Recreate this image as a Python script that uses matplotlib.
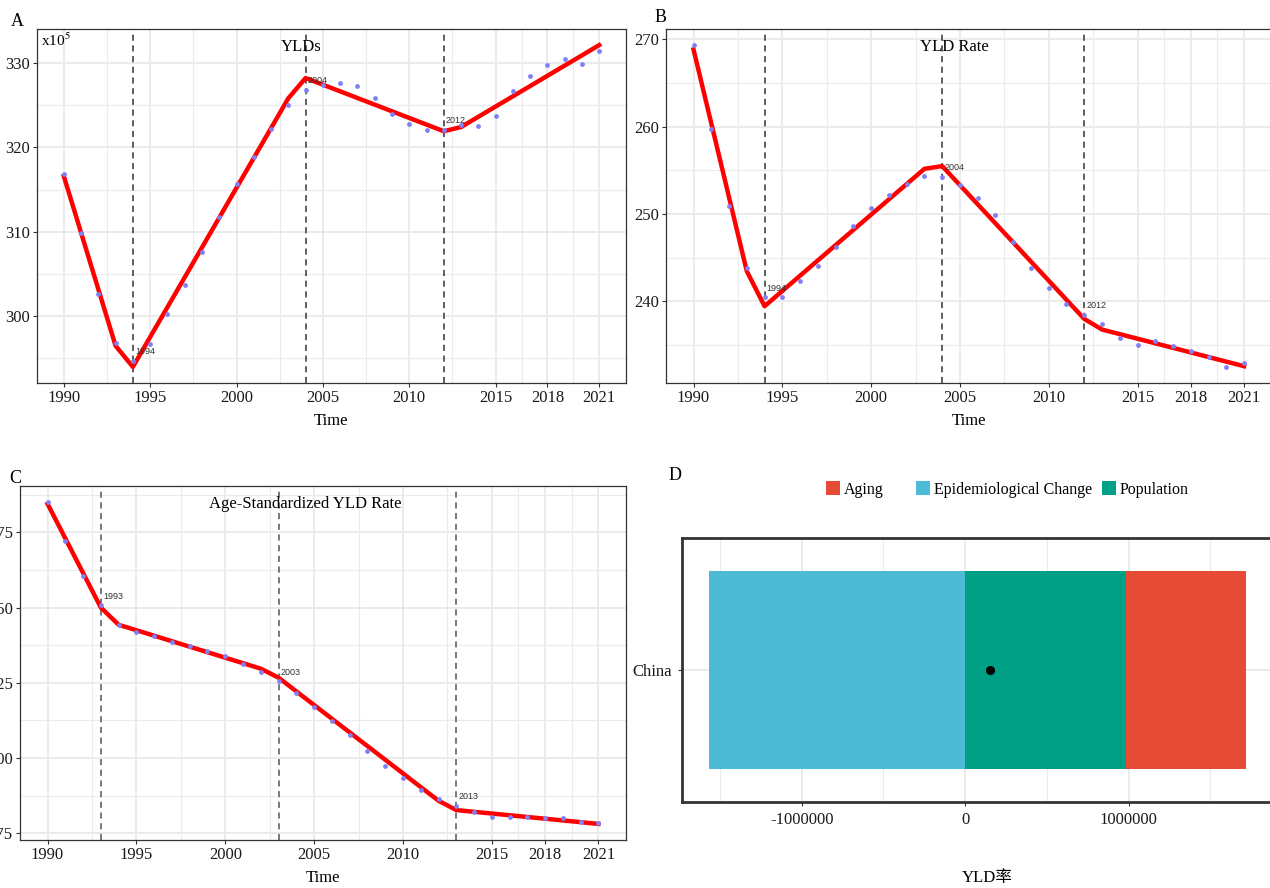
import matplotlib
matplotlib.use('Agg')
import matplotlib.pyplot as plt
from matplotlib.patches import Rectangle
import numpy as np

plt.rcParams['font.family'] = ['Liberation Serif', 'Noto Sans CJK SC']
plt.rcParams['mathtext.fontset'] = 'stix'
plt.rcParams['axes.unicode_minus'] = False

# yearly observed values and joinpoint fits
years = list(range(1990, 2022))
ylds = [316.8, 309.8, 302.6, 296.8, 294.7, 296.75, 300.3, 303.7, 307.6, 311.7,
        315.6, 318.9, 322.2, 325.0, 326.8, 327.4, 327.6, 327.3, 325.8, 323.9,
        322.8, 322.05, 322.05, 322.6, 322.5, 323.7, 326.7, 328.4, 329.7, 330.4,
        329.9, 331.4]
yld_rate = [269.35, 259.77, 250.87, 243.85, 240.5, 240.56, 242.28, 244.03, 246.25, 248.58,
            250.72, 252.17, 253.5, 254.34, 254.27, 253.28, 251.82, 249.84, 246.86, 243.77,
            241.56, 239.72, 238.46, 237.39, 235.79, 235.03, 235.44, 234.95, 234.33, 233.65,
            232.5, 233.0]
asr = [285.07, 272.2, 260.4, 250.75, 244.3, 241.8, 240.45, 238.7, 237.2, 235.6,
       233.9, 231.4, 228.7, 225.6, 221.6, 217.1, 212.4, 207.8, 202.5, 197.4,
       193.2, 189.3, 186.4, 184.1, 181.9, 180.3, 180.4, 180.3, 180.2, 179.9,
       178.7, 178.3]

fit_years_ab = [1990, 1993, 1994, 2003, 2004, 2012, 2013, 2021]
ylds_fit = [316.6, 296.5, 294.0, 325.8, 328.2, 321.9, 322.4, 332.1]
rate_fit = [268.85, 243.46, 239.45, 255.18, 255.5, 238.0, 236.78, 232.58]
fit_years_c = [1990, 1993, 1994, 2002, 2003, 2012, 2013, 2021]
asr_fit = [284.5, 250.0, 244.3, 229.7, 226.7, 185.8, 182.7, 178.1]

joins_ab = [1994, 2004, 2012]
joins_c = [1993, 2003, 2013]

xticks = [1990, 1995, 2000, 2005, 2010, 2015, 2018, 2021]

# decomposition for China
components = ['Aging', 'Epidemiological Change', 'Population']
comp_colors = ['#E64B35', '#4DBBD5', '#00A087']
china_vals = [731000, -1569000, 987000]
dticks = [-1000000, 0, 1000000]

W, H = 1270, 888
GRID = '#EBEBEB'


def box(l, t, r, b):
    return [l / W, 1 - b / H, (r - l) / W, (b - t) / H]


def expand(vals, frac=0.05):
    lo, hi = min(vals), max(vals)
    pad = (hi - lo) * frac
    return lo - pad, hi + pad


def trend_panel(ax, obs, fx, fy, joins, title, yticks, title_x, dash_col):
    xl = expand(years)
    yl = expand(list(obs) + list(fy))
    ax.set_xlim(xl)
    ax.set_ylim(yl)
    ax.set_xticks(xticks)
    ax.set_xticks([(a + b) / 2 for a, b in zip(xticks[:-1], xticks[1:])], minor=True)
    step = yticks[1] - yticks[0]
    ym = np.arange(yticks[0] - step / 2, yticks[-1] + step, step)
    ax.set_yticks(yticks)
    ax.set_yticks([v for v in ym if yl[0] < v < yl[1]], minor=True)
    ax.grid(which='major', color=GRID, lw=1.4, zorder=0)
    ax.grid(which='minor', color=GRID, lw=0.8, zorder=0)
    ax.set_axisbelow(True)
    ax.tick_params(which='minor', length=0)
    ax.tick_params(which='major', length=3, color='#333333', labelsize=12,
                   labelcolor='#1a1a1a', pad=2)
    for s in ax.spines.values():
        s.set_color('#333333')
        s.set_linewidth(0.9)

    for j in joins:
        ax.axvline(j, color=dash_col, lw=1.1, ls=(0, (4, 3)), zorder=1)
    ax.plot(fx, fy, color='#FF0000', lw=3.2, zorder=2, solid_joinstyle='round')
    ax.scatter(years, obs, s=12, color='#8080F5', lw=0, zorder=3)
    for j in joins:
        ax.annotate(str(j), (j, obs[years.index(j)]), xytext=(2, 9),
                    textcoords='offset pixels', fontsize=6.5, family='Liberation Sans',
                    color='#333333', ha='left', va='center', zorder=4)
    ax.text(title_x, 0.949, title, transform=ax.transAxes, ha='center',
            va='center', fontsize=12)
    ax.set_xlabel('Time', fontsize=12, labelpad=5)


fig = plt.figure(figsize=(W / 100, H / 100), dpi=100)

axA = fig.add_axes(box(37, 29, 626, 383))
trend_panel(axA, ylds, fit_years_ab, ylds_fit, joins_ab, 'YLDs',
            [300, 310, 320, 330], 0.448, '#333333')
axA.text(0.007, 0.969, r'x10$^{5}$', transform=axA.transAxes, ha='left',
         va='center', fontsize=11)

axB = fig.add_axes(box(666, 29, 1271.6, 383))
trend_panel(axB, yld_rate, fit_years_ab, rate_fit, joins_ab, 'YLD Rate',
            [240, 250, 260, 270], 0.477, '#333333')

axC = fig.add_axes(box(20, 486, 626, 840))
trend_panel(axC, asr, fit_years_c, asr_fit, joins_c, 'Age-Standardized YLD Rate',
            [175, 200, 225, 250, 275], 0.470, '#555555')

# panel D: stacked decomposition bar
axD = fig.add_axes(box(682, 538, 1272.7, 802))
pos_left = 0
neg_left = 0
for name, col, v in reversed(list(zip(components, comp_colors, china_vals))):
    if v >= 0:
        axD.barh(0, v, left=pos_left, height=0.9, color=col, lw=0, zorder=2)
        pos_left += v
    else:
        axD.barh(0, v, left=neg_left, height=0.9, color=col, lw=0, zorder=2)
        neg_left += v
axD.plot(sum(china_vals), 0, 'o', color='black', ms=5.5, zorder=3)
axD.set_xlim(expand([neg_left, pos_left]))
axD.set_ylim(-0.6, 0.6)
axD.set_xticks(dticks)
axD.set_xticklabels([str(v) for v in dticks])
axD.set_xticks([-1500000, -500000, 500000, 1500000], minor=True)
axD.set_yticks([0])
axD.set_yticklabels(['China'])
axD.grid(which='major', color=GRID, lw=1.4, zorder=0)
axD.grid(which='minor', axis='x', color=GRID, lw=0.8, zorder=0)
axD.set_axisbelow(True)
axD.tick_params(which='minor', length=0)
axD.tick_params(which='major', length=3, color='#333333', labelsize=12,
                labelcolor='#1a1a1a', pad=4)
for s in axD.spines.values():
    s.set_color('#333333')
    s.set_linewidth(2.0)
axD.set_xlabel('YLD率', fontsize=12)
axD.xaxis.set_label_coords((987 - 682) / 590.7, -(878 - 802) / 264)
axD.xaxis.label.set_verticalalignment('center')

# legend row above panel D
key_x = [826, 916, 1102]
for x, name, col in zip(key_x, components, comp_colors):
    fig.patches.append(Rectangle((x / W, 1 - 495 / H), 14 / W, 14 / H,
                                 transform=fig.transFigure, color=col, lw=0))
    fig.text((x + 18) / W, 1 - 490 / H, name, fontsize=11.5, ha='left', va='center')

for letter, x, y in [('A', 17, 22), ('B', 661, 17), ('C', 15, 478), ('D', 675, 475)]:
    fig.text(x / W, 1 - y / H, letter, fontsize=13, ha='center', va='center')

fig.savefig('out.png', dpi=100)
